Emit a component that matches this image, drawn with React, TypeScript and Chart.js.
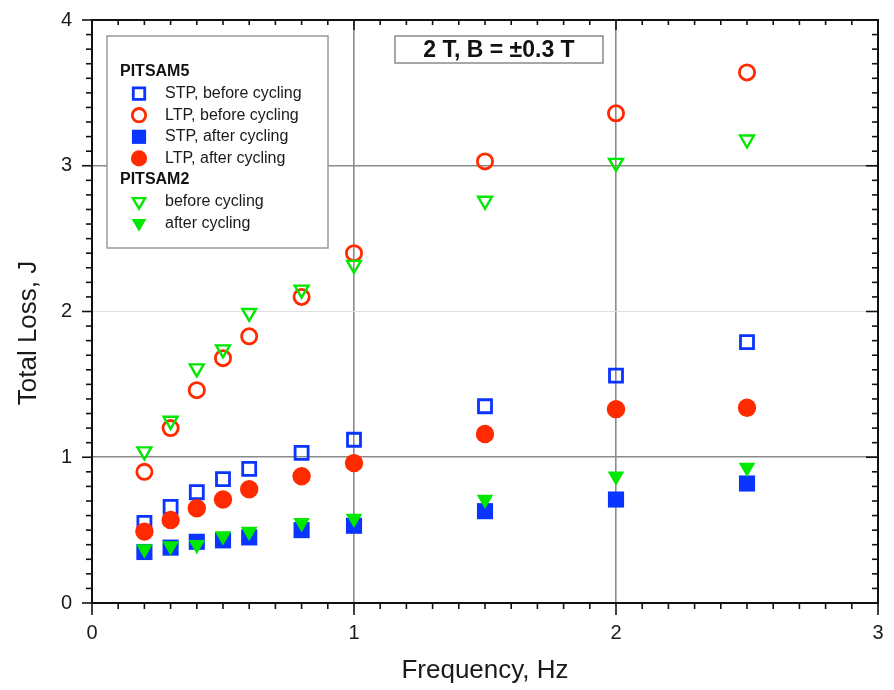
import React, { useEffect, useRef } from 'react';
import { Chart, registerables } from 'chart.js';
import { drawPoint } from 'chart.js/helpers';

Chart.register(...registerables);

// ---- data ----
const frequencies = [0.2, 0.3, 0.4, 0.5, 0.6, 0.8, 1.0, 1.5, 2.0, 2.5];
const stpBefore = [0.55, 0.66, 0.76, 0.85, 0.92, 1.03, 1.12, 1.35, 1.56, 1.79];
const ltpBefore = [0.90, 1.20, 1.46, 1.68, 1.83, 2.10, 2.40, 3.03, 3.36, 3.64];
const stpAfter = [0.35, 0.38, 0.42, 0.43, 0.45, 0.50, 0.53, 0.63, 0.71, 0.82];
const ltpAfter = [0.49, 0.57, 0.65, 0.71, 0.78, 0.87, 0.96, 1.16, 1.33, 1.34];
const p2Before = [1.04, 1.25, 1.61, 1.74, 1.99, 2.15, 2.32, 2.76, 3.02, 3.18];
const p2After = [0.37, 0.39, 0.40, 0.46, 0.49, 0.55, 0.58, 0.71, 0.87, 0.93];

const xTicks = [0, 1, 2, 3];
const yTicks = [0, 1, 2, 3, 4];

const xTitle = 'Frequency, Hz';
const yTitle = 'Total Loss, J';
const annotationText = '2 T, B = \u00b10.3 T';
const group1 = 'PITSAM5';
const group2 = 'PITSAM2';

const BLUE = '#0a34ff';
const RED = '#ff2a00';
const GREEN = '#00e800';
const FONT = "'Liberation Sans', Arial, Helvetica, sans-serif";

const pts = (ys: number[]) => frequencies.map((x, i) => ({ x, y: ys[i] }));

type Sty = { pointStyle: string; radius: number; rotation: number; fill: string; stroke: string; bw: number };

const styles: Record<string, Sty> = {
  stpB: { pointStyle: 'rect', radius: 9.2, rotation: 0, fill: 'rgba(0,0,0,0)', stroke: BLUE, bw: 2.8 },
  ltpB: { pointStyle: 'circle', radius: 7.6, rotation: 0, fill: 'rgba(0,0,0,0)', stroke: RED, bw: 2.8 },
  stpA: { pointStyle: 'rect', radius: 11.4, rotation: 0, fill: BLUE, stroke: BLUE, bw: 0 },
  ltpA: { pointStyle: 'circle', radius: 9.2, rotation: 0, fill: RED, stroke: RED, bw: 0 },
  p2B: { pointStyle: 'triangle', radius: 8, rotation: 180, fill: 'rgba(0,0,0,0)', stroke: GREEN, bw: 2.4 },
  p2A: { pointStyle: 'triangle', radius: 9.6, rotation: 180, fill: GREEN, stroke: GREEN, bw: 0 },
};

const mkDs = (label: string, ys: number[], s: Sty, order: number) => ({
  label,
  data: pts(ys),
  showLine: false,
  order,
  pointStyle: s.pointStyle,
  pointRadius: s.radius,
  pointRotation: s.rotation,
  pointBackgroundColor: s.fill,
  pointBorderColor: s.stroke,
  pointBorderWidth: s.bw,
  backgroundColor: s.fill,
  borderColor: s.stroke,
});

const legendRows: ({ header: string } | { label: string; key: string })[] = [
  { header: group1 },
  { label: 'STP, before cycling', key: 'stpB' },
  { label: 'LTP, before cycling', key: 'ltpB' },
  { label: 'STP, after cycling', key: 'stpA' },
  { label: 'LTP, after cycling', key: 'ltpA' },
  { header: group2 },
  { label: 'before cycling', key: 'p2B' },
  { label: 'after cycling', key: 'p2A' },
];

const decorPlugin = {
  id: 'decor',
  beforeDatasetsDraw(chart: any) {
    const { ctx, chartArea } = chart;
    const { left, top } = chartArea;
    ctx.save();
    // legend box
    const bx = left + 15, by = top + 16, bw = 221, bh = 212;
    ctx.fillStyle = '#fff';
    ctx.fillRect(bx, by, bw, bh);
    ctx.strokeStyle = '#9a9a9a';
    ctx.lineWidth = 1.5;
    ctx.strokeRect(bx, by, bw, bh);
    let y = by + 36;
    const rowH = 21.6;
    for (const r of legendRows) {
      if ('header' in r) {
        ctx.font = `bold 16px ${FONT}`;
        ctx.fillStyle = '#111';
        ctx.textAlign = 'left';
        ctx.textBaseline = 'middle';
        ctx.fillText(r.header, bx + 13, y);
      } else {
        const s = styles[r.key];
        ctx.fillStyle = s.fill;
        ctx.strokeStyle = s.stroke;
        ctx.lineWidth = s.bw;
        drawPoint(ctx, { pointStyle: s.pointStyle as any, radius: s.radius * 0.88, rotation: s.rotation, borderWidth: s.bw }, bx + 32, y);
        ctx.font = `16px ${FONT}`;
        ctx.fillStyle = '#1a1a1a';
        ctx.textAlign = 'left';
        ctx.textBaseline = 'middle';
        ctx.fillText(r.label, bx + 58, y);
      }
      y += rowH;
    }
    // annotation box
    const ax = left + 303, ay = top + 16, aw = 208, ah = 27;
    ctx.fillStyle = '#fff';
    ctx.fillRect(ax, ay, aw, ah);
    ctx.strokeStyle = '#8a8a8a';
    ctx.lineWidth = 1.5;
    ctx.strokeRect(ax, ay, aw, ah);
    ctx.font = `bold 23px ${FONT}`;
    ctx.fillStyle = '#111';
    ctx.textAlign = 'center';
    ctx.textBaseline = 'middle';
    ctx.fillText(annotationText, ax + aw / 2, ay + ah / 2 + 1);
    ctx.restore();
  },
  afterDatasetsDraw(chart: any) {
    const { ctx, chartArea } = chart;
    const { left, right, top, bottom } = chartArea;
    const xs = chart.scales.x, ys = chart.scales.y;
    ctx.save();
    ctx.strokeStyle = '#111';
    ctx.lineWidth = 1.6;
    const line = (x1: number, y1: number, x2: number, y2: number) => {
      ctx.beginPath();
      ctx.moveTo(x1, y1);
      ctx.lineTo(x2, y2);
      ctx.stroke();
    };
    for (let i = 0; i <= 30; i++) {
      const px = xs.getPixelForValue(i / 10);
      const major = i % 10 === 0;
      line(px, bottom, px, bottom + (major ? 12 : 6));
      line(px, top, px, top + (major ? 10 : 5));
    }
    for (let i = 0; i <= 40; i++) {
      const py = ys.getPixelForValue(i / 10);
      const major = i % 10 === 0;
      line(left - (major ? 10 : 6), py, left, py);
      line(right - (major ? 12 : 6), py, right, py);
    }
    ctx.lineWidth = 2;
    ctx.strokeRect(left, top, right - left, bottom - top);
    // y title
    ctx.translate(29, 333);
    ctx.rotate(-Math.PI / 2);
    ctx.font = `26px ${FONT}`;
    ctx.fillStyle = '#1a1a1a';
    ctx.textAlign = 'center';
    ctx.textBaseline = 'middle';
    ctx.fillText(yTitle, 0, 0);
    ctx.restore();
  },
};

export default function App() {
  const ref = useRef<HTMLCanvasElement>(null);
  useEffect(() => {
    Chart.defaults.font.family = FONT;
    const chart = new Chart(ref.current!, {
      type: 'scatter',
      data: {
        datasets: [
          mkDs('STP, before cycling', stpBefore, styles.stpB, 5),
          mkDs('LTP, before cycling', ltpBefore, styles.ltpB, 3),
          mkDs('STP, after cycling', stpAfter, styles.stpA, 4),
          mkDs('LTP, after cycling', ltpAfter, styles.ltpA, 2),
          mkDs('PITSAM2 before cycling', p2Before, styles.p2B, 1),
          mkDs('PITSAM2 after cycling', p2After, styles.p2A, 0),
        ] as any,
      },
      options: {
        responsive: false,
        animation: false,
        devicePixelRatio: 1,
        layout: { padding: { top: 20, right: 16, left: 0, bottom: 0 } },
        plugins: { legend: { display: false }, tooltip: { enabled: false } },
        scales: {
          x: {
            type: 'linear',
            min: 0,
            max: 3,
            afterBuildTicks: (s: any) => { s.ticks = xTicks.map((v) => ({ value: v })); },
            afterFit: (s: any) => { s.height = 87; s.paddingLeft = 0; s.paddingRight = 0; },
            ticks: { font: { size: 20 }, color: '#1a1a1a', padding: 18, maxRotation: 0 },
            grid: {
              drawTicks: false,
              color: '#8a8a8a',
              lineWidth: 1.6,
            },
            border: { display: false },
            title: { display: true, text: xTitle, font: { size: 26 }, color: '#1a1a1a', padding: { top: 0, bottom: 4 } },
          },
          y: {
            type: 'linear',
            min: 0,
            max: 4,
            afterBuildTicks: (s: any) => { s.ticks = yTicks.map((v) => ({ value: v })); },
            afterFit: (s: any) => { s.width = 92; s.paddingTop = 0; s.paddingBottom = 0; },
            ticks: { font: { size: 20 }, color: '#1a1a1a', padding: 20 },
            grid: {
              drawTicks: false,
              color: (c: any) => (c.tick && c.tick.value === 2 ? '#dedede' : '#8a8a8a'),
              lineWidth: (c: any) => (c.tick && c.tick.value === 2 ? 1 : 1.6),
            },
            border: { display: false },
          },
        },
      },
      plugins: [decorPlugin],
    });
    return () => chart.destroy();
  }, []);
  return (
    <div style={{ position: 'fixed', left: 0, top: 0, width: 894, height: 690, background: '#fff' }}>
      <canvas ref={ref} width={894} height={690} style={{ display: 'block', width: 894, height: 690 }} />
    </div>
  );
}
